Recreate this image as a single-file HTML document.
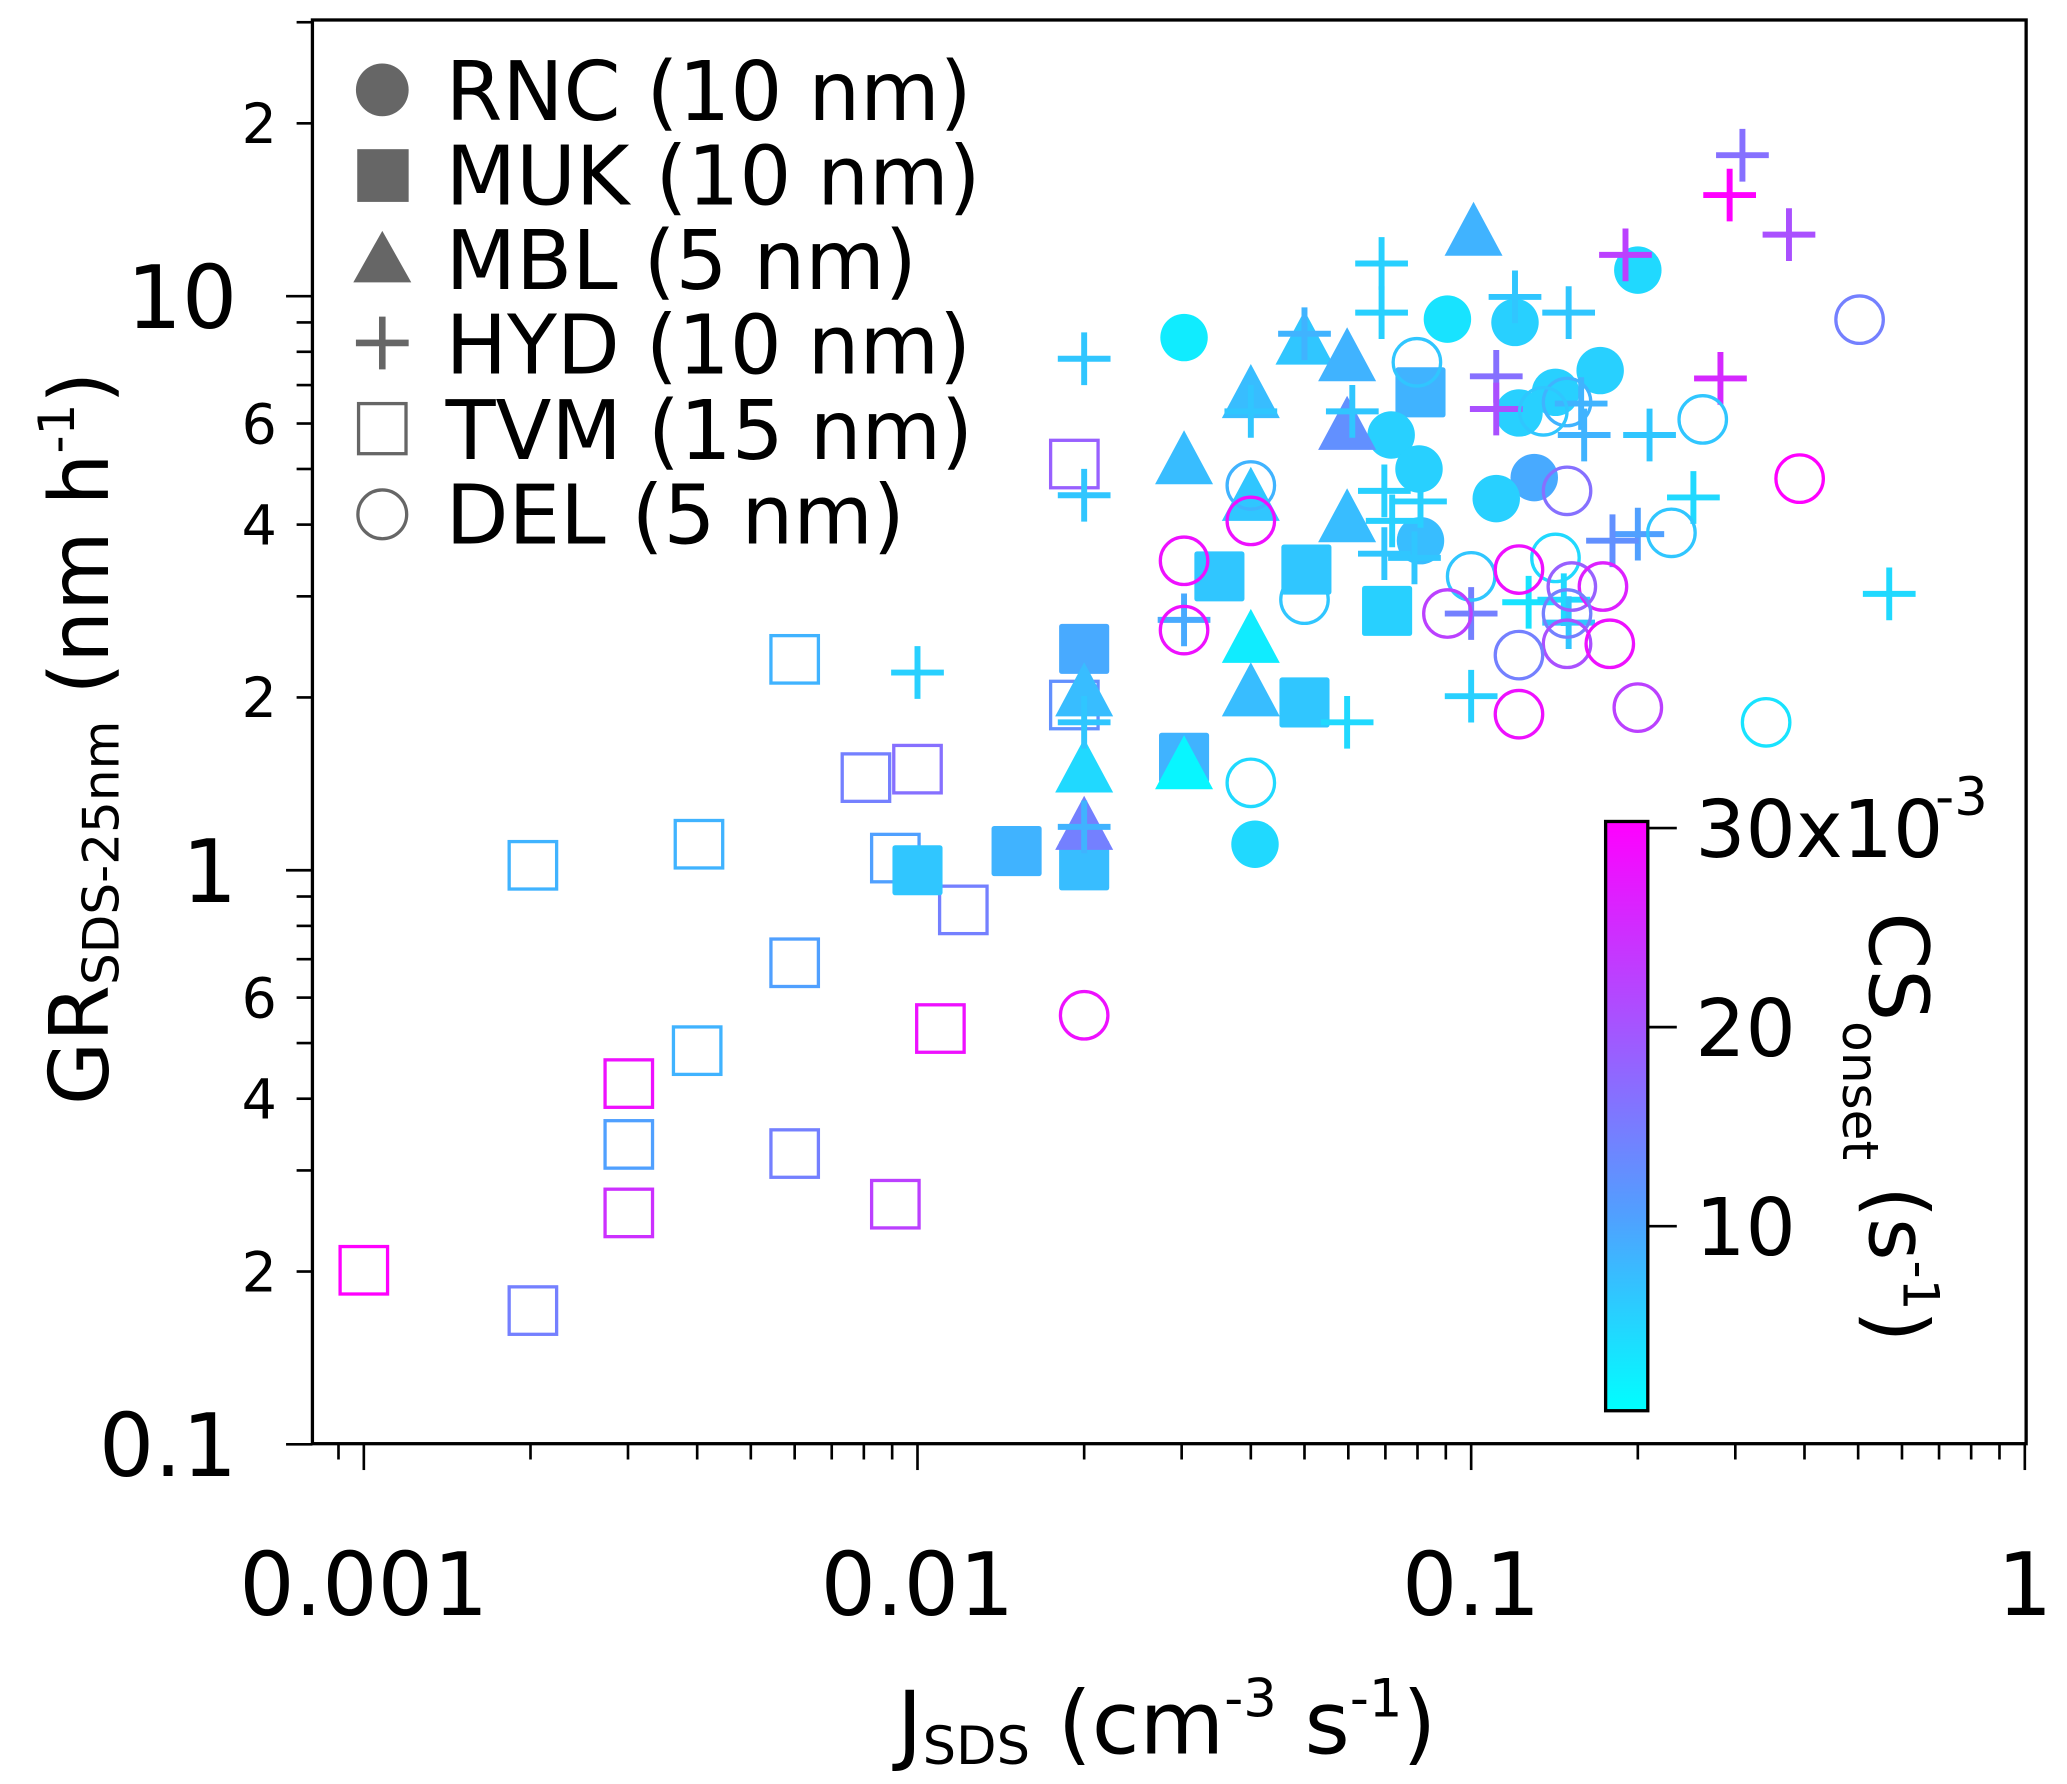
<!DOCTYPE html>
<html><head><meta charset="utf-8"><style>
html,body{margin:0;padding:0;background:#fff}
svg{display:block}
text{font-family:"DejaVu Sans","Liberation Sans",sans-serif;fill:#000}
</style></head><body>
<svg id="chart" width="2067" height="1784" viewBox="0 0 1568 1353" xmlns="http://www.w3.org/2000/svg">
<defs>
<linearGradient id="cbg" x1="0" y1="1" x2="0" y2="0">
<stop offset="0" stop-color="rgb(0,255,255)"/>
<stop offset="0.33" stop-color="rgb(80,160,255)"/>
<stop offset="0.67" stop-color="rgb(170,80,255)"/>
<stop offset="1" stop-color="rgb(255,0,255)"/>
</linearGradient>
</defs>
<g id="marks"></g>
<rect x="237" y="15" width="1300" height="1080" fill="none" stroke="#000" stroke-width="2.5"/>
<g id="ticks"></g>
<g fill="#666">
<circle cx="290" cy="68" r="20" fill="#666"/>
<rect x="271" y="113" width="39" height="40" fill="#666"/>
<polygon points="290,175 268,214 312,214" fill="#666"/>
<path d="M290,240 V280 M270,260 H310" stroke="#666" stroke-width="5"/>
<rect x="272" y="306" width="36" height="38" fill="none" stroke="#666" stroke-width="2.5"/>
<circle cx="290" cy="390" r="18.5" fill="none" stroke="#666" stroke-width="2.5"/>
<text x="338" y="91" font-size="62">RNC (10 nm)</text>
<text x="338" y="155" font-size="62">MUK (10 nm)</text>
<text x="338" y="219" font-size="62">MBL (5 nm)</text>
<text x="338" y="283" font-size="62">HYD (10 nm)</text>
<text x="338" y="348" font-size="62">TVM (15 nm)</text>
<text x="338" y="412" font-size="62">DEL (5 nm)</text>
</g>
<text x="885" y="1330" font-size="66" text-anchor="middle">J<tspan font-size="40" dy="8">SDS</tspan><tspan dy="-8"> (cm</tspan><tspan font-size="40" dy="-28">-3</tspan><tspan dy="28"> s</tspan><tspan font-size="40" dy="-28">-1</tspan><tspan dy="28">)</tspan></text>
<text transform="translate(82,560) rotate(-90)" font-size="62" text-anchor="middle">GR<tspan font-size="38" dy="8">SDS-25nm</tspan><tspan dy="-8">  (nm h</tspan><tspan font-size="38" dy="-26">-1</tspan><tspan dy="26">)</tspan></text>
<g>
<rect x="1218" y="623" width="32" height="447" fill="url(#cbg)" stroke="#000" stroke-width="2.5"/>
<g id="cbticks"></g>
<text x="1468" y="618" font-size="40">-3</text>
<text transform="translate(1418,855) rotate(90)" font-size="62" text-anchor="middle">CS<tspan font-size="38" dy="20">onset</tspan><tspan dy="-20"> (s</tspan><tspan font-size="38" dy="-26">-1</tspan><tspan dy="26">)</tspan></text>
</g>
</svg>
<script>
// Data: J (cm^-3 s^-1), GR (nm/h), CS (x1e-3 s^-1)
const rncJ=[0.0303,0.0906,0.12,0.2,0.171,0.142,0.122,0.0717,0.0805,0.13,0.111,0.081,0.0407];
const rncGR=[8.47,9.12,9.0,11.1,7.42,6.8,6.26,5.73,5.0,4.83,4.44,3.75,1.11];
const rncCS=[2,3,5,4,5,5,5,5,5,9,5,7,4];
const mukJ=[0.081,0.0351,0.0504,0.0705,0.05,0.02,0.0303,0.0151,0.01,0.02];
const mukGR=[6.8,3.25,3.34,2.83,1.96,2.43,1.57,1.08,1.0,1.02];
const mukCS=[8,6,6,5,6,9,8,8,6,7];
const mblJ=[0.101,0.05,0.0597,0.0597,0.04,0.0303,0.04,0.0597,0.04,0.04,0.02,0.02,0.02,0.0303];
const mblGR=[13,8.4,7.86,5.97,6.78,5.2,4.49,4.12,2.54,2.05,2.05,1.51,1.2,1.53];
const mblCS=[8,6,8,12,7,7,6,7,2,7,7,4,14,1];
const hydJ=[0.293,0.309,0.375,0.19,0.0689,0.0689,0.12,0.15,0.05,0.02,0.282,0.111,0.111,0.061,0.158,0.16,0.21,0.04,0.02,0.0697,0.081,0.072,0.252,0.2,0.18,0.0697,0.079,0.127,0.147,0.15,0.1,0.569,0.0303,0.1,0.0597,0.01,0.02,0.02];
const hydGR=[15,17.6,12.8,11.8,11.4,9.36,9.97,9.36,8.6,7.78,7.19,7.25,6.36,6.3,6.5,5.73,5.73,6.3,4.5,4.58,4.39,4.06,4.46,3.85,3.75,3.56,3.5,2.93,2.96,2.7,2.8,3.03,2.73,2.01,1.81,2.21,1.81,1.19];
const hydCS=[30,16,20,22,5,5,6,6,8,6,25,16,20,6,8,8,6,6,6,5,5,5,4,10,12,6,6,3,4,6,14,4,9,5,4,5,6,8];
const tvmJ=[0.0192,0.006,0.0192,0.00807,0.01,0.00202,0.00403,0.00912,0.0121,0.006,0.011,0.004,0.00301,0.00301,0.006,0.00301,0.00912,0.001,0.00202];
const tvmGR=[5.1,2.33,1.94,1.45,1.5,1.02,1.11,1.05,0.853,0.69,0.53,0.485,0.425,0.333,0.321,0.253,0.262,0.201,0.171];
const tvmCS=[18,8,12,14,16,8,8,10,14,10,28,8,28,10,14,24,22,30,14];
const delJ=[0.503,0.0798,0.149,0.135,0.262,0.04,0.392,0.149,0.23,0.04,0.0303,0.142,0.1,0.122,0.152,0.173,0.05,0.0906,0.149,0.149,0.178,0.122,0.0303,0.122,0.2,0.341,0.04,0.02];
const delGR=[9.1,7.67,6.54,6.3,6.1,4.68,4.81,4.58,3.87,4.06,3.46,3.5,3.25,3.34,3.12,3.12,2.96,2.8,2.8,2.48,2.48,2.37,2.62,1.87,1.92,1.81,1.42,0.559];
const delCS=[14,6,8,6,6,8,30,16,6,28,28,4,6,28,18,26,6,22,14,20,28,14,28,28,22,3,4,28];
const xTickLabels=["0.001","0.01","0.1","1"];
const xTickVals=[0.001,0.01,0.1,1];
const yBigLabels=["0.1","1","10"];
const yBigVals=[0.1,1,10];
const ySmallLabels=["2","4","6","2","4","6","2"];
const ySmallVals=[0.2,0.4,0.6,2,4,6,20];
const cbTickVals=[10,20,30];
const cbTickLabels=["10","20","30x10"];

const NS="http://www.w3.org/2000/svg";
const X=v=>696+420*(Math.log10(v)+2);
const Y=v=>660-435.5*Math.log10(v);
const CBY=v=>930-(v-10)*15.1;
function col(c){
  const st=[[0,[0,255,255]],[10,[80,160,255]],[20,[170,80,255]],[30,[255,0,255]]];
  c=Math.max(0,Math.min(30,c));
  for(let i=0;i<3;i++){const a=st[i],b=st[i+1];if(c<=b[0]){const t=(c-a[0])/(b[0]-a[0]);
    return "rgb("+a[1].map((v,k)=>Math.round(v+(b[1][k]-v)*t)).join(",")+")";}}
  return "rgb(255,0,255)";
}
function mk(tag,attrs,parent){const e=document.createElementNS(NS,tag);for(const k in attrs)e.setAttribute(k,attrs[k]);parent.appendChild(e);return e;}
const g=document.getElementById("marks");
function series(J,G,C,type,name){
  for(let i=0;i<J.length;i++){
    const x=X(J[i]),y=Y(G[i]),c=col(C[i]);let e;
    if(type==="fcirc")e=mk("circle",{cx:x,cy:y,r:18,fill:c},g);
    else if(type==="fsq")e=mk("rect",{x:x-19,y:y-19,width:38,height:38,rx:2,fill:c},g);
    else if(type==="tri")e=mk("polygon",{points:`${x},${y-22} ${x-22},${y+19} ${x+22},${y+19}`,fill:c},g);
    else if(type==="plus")e=mk("path",{d:`M${x},${y-20}V${y+20}M${x-20},${y}H${x+20}`,stroke:c,"stroke-width":4.5,fill:"none"},g);
    else if(type==="osq")e=mk("rect",{x:x-18,y:y-18,width:36,height:36,fill:"none",stroke:c,"stroke-width":2.5},g);
    else e=mk("circle",{cx:x,cy:y,r:18,fill:"none",stroke:c,"stroke-width":2.5},g);
    
    
  }
}
series(tvmJ,tvmGR,tvmCS,"osq","tvm");
series(mukJ,mukGR,mukCS,"fsq","muk");
series(rncJ,rncGR,rncCS,"fcirc","rnc");
series(mblJ,mblGR,mblCS,"tri","mbl");
series(hydJ,hydGR,hydCS,"plus","hyd");
series(delJ,delGR,delCS,"ocirc","del");

const t=document.getElementById("ticks");
for(let d=-4;d<0;d++)for(let m=1;m<10;m++){
  const v=m*Math.pow(10,d);if(v<0.00085||v>1)continue;
  const x=X(v);const L=m===1?20:12;
  const e=mk("line",{x1:x,y1:1095,x2:x,y2:1095+L,stroke:"#000","stroke-width":2},t);
  
  
}
{const e=mk("line",{x1:X(1),y1:1095,x2:X(1),y2:1115,stroke:"#000","stroke-width":2},t);}
xTickLabels.forEach((s,i)=>{const e=mk("text",{x:X(xTickVals[i]),y:1225,"font-size":66,"text-anchor":"middle"},t);e.textContent=s;
  
  });
for(let d=-1;d<2;d++)for(let m=1;m<10;m++){
  const v=m*Math.pow(10,d);if(v>30)continue;
  const y=Y(v);const L=m===1?20:12;
  const e=mk("line",{x1:237-L,y1:y,x2:237,y2:y,stroke:"#000","stroke-width":2},t);
  
  
}
yBigLabels.forEach((s,i)=>{const e=mk("text",{x:180,y:Y(yBigVals[i])+24,"font-size":66,"text-anchor":"end"},t);e.textContent=s;
  
  });
ySmallLabels.forEach((s,i)=>{const e=mk("text",{x:210,y:Y(ySmallVals[i])+15,"font-size":42,"text-anchor":"end"},t);e.textContent=s;
  
  });
const cb=document.getElementById("cbticks");
cbTickVals.forEach((v,i)=>{const y=CBY(v);
  const l=mk("line",{x1:1250,y1:y,x2:1272,y2:y,stroke:"#000","stroke-width":2},cb);
  
  
  const e=mk("text",{x:1286,y:y+22,"font-size":60},cb);e.textContent=cbTickLabels[i];
  
  });
</script>
</body></html>
